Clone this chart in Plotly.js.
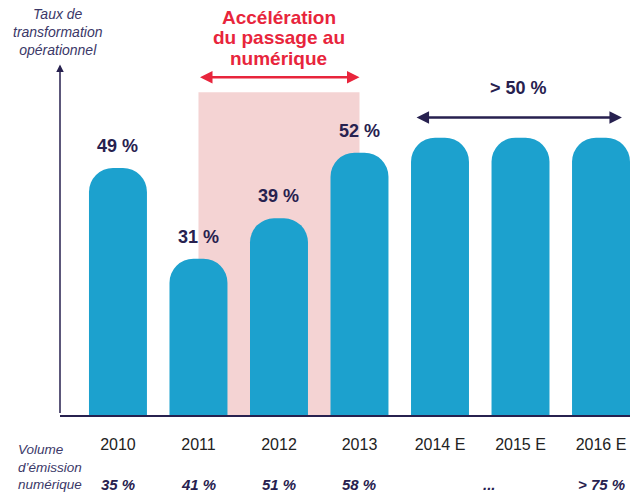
<!DOCTYPE html>
<html><head><meta charset="utf-8">
<script src="https://cdn.plot.ly/plotly-3.0.1.min.js"></script>
<style>html,body{margin:0;padding:0;background:#fff}#chart{width:630px;height:495px}</style>
</head><body><div id="chart"></div>
<script>
const categories = ["2010","2011","2012","2013","2014 E","2015 E","2016 E"];
const taux = [49, 31, 39, 52, 55, 55, 55];
const tauxLabels = ["49 %","31 %","39 %","52 %","","",""];
const volumeLabels = ["35 %","41 %","51 %","58 %","","","> 75 %"];
const volumeEllipsisPos = 4.62;
const redTitle = ["Accélération","du passage au","numérique"];
const yTitle = ["Taux de","transformation","opérationnel"];
const volTitle = ["Volume","d’émission","numérique"];

const navy = "#27214f";
const red = "#e8253c";
const grey = "#3b3868";
const FONT = 'Liberation Sans, Arial';
const idx = categories.map((c,i)=>i);
// convert pixel row/column to paper coords (plot: x 60..630, y 62..415 px)
const py = p => (415 - p) / 353;
const px = p => (p - 60) / 570;

const annotations = [];
idx.forEach(i=>{
  if (tauxLabels[i]) annotations.push({x:i, y:taux[i], xref:'x', yref:'y', text:'<b>'+tauxLabels[i]+'</b>', showarrow:false, yanchor:'bottom', yshift:10, font:{family:FONT, size:18, color:navy}});
  if (volumeLabels[i]) annotations.push({x:i, y:py(484), xref:'x', yref:'paper', text:'<b><i>'+volumeLabels[i]+'</i></b>', showarrow:false, yanchor:'middle', font:{family:FONT, size:15, color:navy}});
});
annotations.push({x:volumeEllipsisPos, y:py(484), xref:'x', yref:'paper', text:'<b><i>...</i></b>', showarrow:false, yanchor:'middle', font:{family:FONT, size:15, color:navy}});
annotations.push({x:px(17), y:py(493), xref:'paper', yref:'paper', text:'<i>'+volTitle.join('<br>')+'</i>', showarrow:false, xanchor:'left', yanchor:'bottom', align:'left', borderpad:0, font:{family:FONT, size:13.5, color:grey}});
annotations.push({x:px(58), y:py(5), xref:'paper', yref:'paper', text:'<i>'+yTitle.join('<br>')+'</i>', showarrow:false, xanchor:'center', yanchor:'top', align:'center', borderpad:0, font:{family:FONT, size:14, color:grey}});
redTitle.forEach((t,k)=>annotations.push({x:2, y:py([17,38,58][k]), xref:'x', yref:'paper', text:'<b>'+t+'</b>', showarrow:false, xanchor:'center', yanchor:'middle', borderpad:0, font:{family:FONT, size:19, color:red}}));
// Y axis arrow
annotations.push({x:0, y:69.5, xref:'paper', yref:'y', ax:0, ay:350, axref:'pixel', ayref:'pixel', showarrow:true, arrowhead:2, arrowsize:1, arrowwidth:1.5, arrowcolor:navy, text:''});
// Red double arrow
annotations.push({x:3.0, y:67, ax:1.0, ay:67, xref:'x', yref:'y', axref:'x', ayref:'y', showarrow:true, arrowhead:2, startarrowhead:2, arrowside:'end+start', arrowsize:1, arrowwidth:2.5, arrowcolor:red, text:''});
// Navy double arrow
annotations.push({x:6.26, y:59, ax:3.69, ay:59, xref:'x', yref:'y', axref:'x', ayref:'y', showarrow:true, arrowhead:2, startarrowhead:2, arrowside:'end+start', arrowsize:1, arrowwidth:2.5, arrowcolor:navy, text:''});
annotations.push({x:4.98, y:py(88), xref:'x', yref:'paper', yanchor:'middle', text:'<b>> 50 %</b>', showarrow:false, font:{family:FONT, size:18, color:navy}});

const trace = {
  type:'bar', x: idx, y: taux, width:0.72,
  marker:{color:'#1ca1ce', cornerradius:'42%'},
  hoverinfo:'none'
};

const layout = {
  width:630, height:495,
  margin:{l:60, r:0, t:62, b:80},
  paper_bgcolor:'#fff', plot_bgcolor:'#fff',
  showlegend:false,
  xaxis:{range:[-0.72, 6.36], tickmode:'array', tickvals:idx, ticktext:categories, showgrid:false, zeroline:false, showline:true, linecolor:navy, linewidth:1.5, ticks:'', ticklabelstandoff:14, tickfont:{family:'Liberation Sans Narrow, Liberation Sans', size:16, color:'#222'}},
  yaxis:{range:[0,70], showgrid:false, zeroline:false, showline:false, showticklabels:false, ticks:''},
  shapes:[{type:'rect', xref:'x', yref:'y', x0:1, x1:3, y0:0, y1:64, fillcolor:'#f4d3d3', line:{width:0}, layer:'below'}],
  annotations: annotations
};
Plotly.newPlot('chart',[trace],layout,{displayModeBar:false, staticPlot:true});
</script></body></html>
